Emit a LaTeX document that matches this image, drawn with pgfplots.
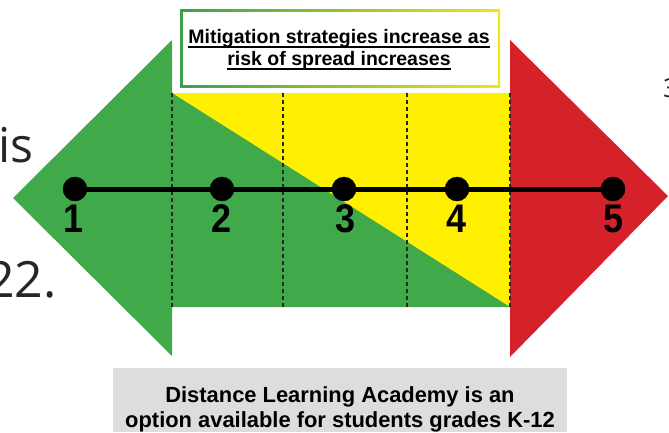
\documentclass[border=0pt]{standalone}
\usepackage{fontspec}
\setmainfont{Liberation Sans}
\newfontfamily\numfont{Liberation Sans}[FakeStretch=0.9]
\newfontfamily\bgfont{Open Sans}
\usepackage{pgfplots}
\pgfplotsset{compat=1.18}
\definecolor{cgreen}{RGB}{64,170,74}
\definecolor{cyellow}{RGB}{255,239,0}
\definecolor{cred}{RGB}{212,33,42}
\definecolor{cgray}{RGB}{221,221,221}
\definecolor{bordgreen}{RGB}{60,160,80}
\definecolor{bordyellow}{RGB}{240,230,20}
\newcommand\myul[1]{\leavevmode\setbox0\hbox{#1}\rlap{\rule[-4.5pt]{\wd0}{1.3pt}}\box0}
\begin{document}
\begin{tikzpicture}
\begin{axis}[width=669pt, height=432pt, scale only axis,
  xmin=0, xmax=669, ymin=0, ymax=432, y dir=reverse,
  hide axis, clip=false]
% background slide text
\node[anchor=base west, inner sep=0pt, font=\bgfont\fontsize{48}{48}\selectfont, text=black!85] at (axis cs:-2,162) {is};
\node[anchor=base west, inner sep=0pt, font=\bgfont\fontsize{50}{50}\selectfont, text=black!85] at (axis cs:-14,297) {22.};
\node[anchor=base west, inner sep=0pt, font=\bgfont\fontsize{26}{26}\selectfont, text=black!85] at (axis cs:663,97) {3};
% arrows
\addplot[fill=cgreen, draw=none] coordinates {(172,40) (13,198) (172,356)} -- cycle;
\addplot[fill=cred, draw=none] coordinates {(510,40) (668,196) (510,357)} -- cycle;
% central band
\addplot[fill=cyellow, draw=none] coordinates {(172,93) (510,93) (510,307) (172,307)} -- cycle;
\addplot[fill=cgreen, draw=none] coordinates {(172,93) (510,307) (172,307)} -- cycle;
% dashed dividers
\addplot[black!85, line width=1.2pt, dash pattern=on 4pt off 3pt] coordinates {(172,93) (172,307)};
\addplot[black!85, line width=1.2pt, dash pattern=on 4pt off 3pt] coordinates {(283,93) (283,307)};
\addplot[black!85, line width=1.2pt, dash pattern=on 4pt off 3pt] coordinates {(407,93) (407,307)};
\addplot[black!85, line width=1.2pt, dash pattern=on 4pt off 3pt] coordinates {(510,93) (510,307)};
% scale line and dots
\addplot[black, line width=5pt] coordinates {(75,189) (613,189)};
\addplot[only marks, mark=*, mark size=12pt, mark options={fill=black, draw=black}] coordinates {(75,189) (222,189) (344,189) (457,189) (613,189)};
% numbers
\foreach \xx/\lab in {74/1,222/2,346/3,457/4,614/5}{
  \edef\tmp{\noexpand\node[anchor=base, inner sep=0pt, font=\noexpand\numfont\noexpand\bfseries\noexpand\fontsize{40}{40}\noexpand\selectfont] at (axis cs:\xx,232) {\lab};}
  \tmp
}
% top box
\shade[left color=bordgreen, right color=bordyellow] (axis cs:180,9) rectangle (axis cs:500,87);
\fill[white] (axis cs:182.5,11.5) rectangle (axis cs:497.5,84.5);
\node[anchor=base, inner sep=0pt, font=\bfseries\fontsize{19.5}{20}\selectfont] at (axis cs:339,43) {\myul{Mitigation strategies increase as}};
\node[anchor=base, inner sep=0pt, font=\bfseries\fontsize{19.5}{20}\selectfont] at (axis cs:339,65) {\myul{risk of spread increases}};
% bottom box
\addplot[fill=cgray, draw=none] coordinates {(113,368) (567,368) (567,432) (113,432)} -- cycle;
\node[anchor=base, inner sep=0pt, font=\bfseries\fontsize{21.9}{22}\selectfont] at (axis cs:340,402) {Distance Learning Academy is an};
\node[anchor=base, inner sep=0pt, font=\bfseries\fontsize{21.9}{22}\selectfont] at (axis cs:340,427) {option available for students grades K-12};
\end{axis}
\pgfresetboundingbox
\path[use as bounding box] (0,0) rectangle (669pt,432pt);
\end{tikzpicture}
\end{document}
